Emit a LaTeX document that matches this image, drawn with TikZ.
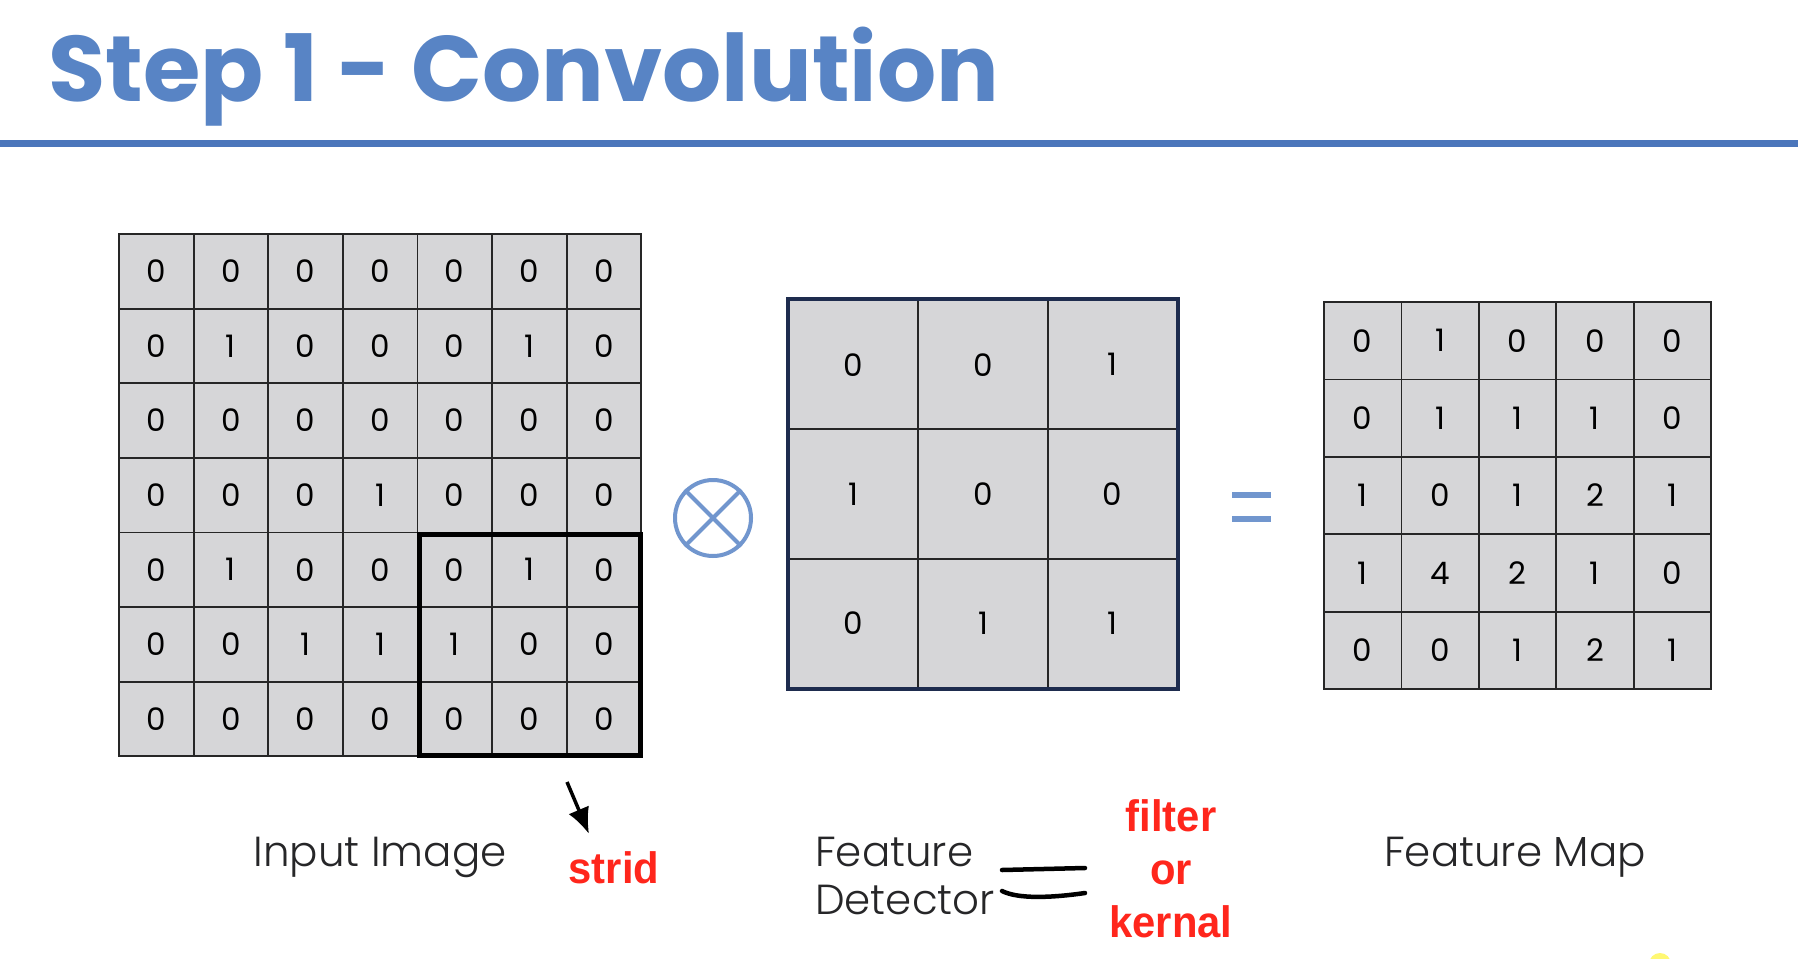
\documentclass[tikz,border=0pt]{standalone}
\usepackage{fontspec}
\usepackage{xcolor}
\usepackage{tikz}
\usetikzlibrary{arrows.meta}
\setmainfont{Poppins}
\newfontfamily\titlefont{Poppins}
\newfontfamily\lightfont{Poppins Light}
\newfontfamily\notefont{Liberation Sans}[FakeStretch=0.95]
\definecolor{Slide-Blue}{RGB}{ 88,132,197}
\definecolor{Rule-Blue}{RGB}{ 75,118,187}
\definecolor{Cell-Gray}{RGB}{214,214,216}
\definecolor{Frame-Navy}{RGB}{ 30, 44, 78}
\definecolor{Note-Red}{RGB}{255, 38, 28}
\definecolor{Label-Gray}{RGB}{ 38, 38, 40}
\tikzstyle{cell}=[rectangle,draw=black!85,line width=1.8pt,fill=Cell-Gray,inner sep=0pt,font=\fontsize{31}{31}\selectfont]
\tikzstyle{incell}=[cell,minimum size=74.6pt]
\tikzstyle{fdcell}=[cell,minimum size=129.3pt]
\tikzstyle{fmcell}=[cell,minimum size=77.4pt]
\tikzstyle{window}=[line width=5pt,draw=black]
\tikzstyle{lbl}=[text=Label-Gray,font=\lightfont\fontsize{42}{48}\selectfont,inner sep=0pt]
\tikzstyle{note}=[text=Note-Red,font=\notefont\bfseries\fontsize{44}{53}\selectfont,inner sep=0pt]
\tikzstyle{hand}=[line width=4.5pt,line cap=round]

\begin{document}
\begin{tikzpicture}[x=1pt,y=-1pt]
\useasboundingbox[fill=white] (0,0) rectangle (1798,958);

% Title
\node[anchor=base west,inner sep=0pt,text=Slide-Blue,font=\titlefont\bfseries\fontsize{93}{100}\selectfont] (title) at (48,101) {Step 1 - Convolution};
\draw[Rule-Blue,line width=7pt] (0,143) -- (1798,143);

% Input image
\foreach \row [count=\r] in {{0,0,0,0,0,0,0},{0,1,0,0,0,1,0},{0,0,0,0,0,0,0},{0,0,0,1,0,0,0},{0,1,0,0,0,1,0},{0,0,1,1,1,0,0},{0,0,0,0,0,0,0}}
  \foreach \v [count=\c] in \row
    \node[incell] (in-\r-\c) at ({119+74.6*(\c-0.5)},{234+74.6*(\r-0.5)}) {\v};
\draw[window] ([shift={(3,3)}]in-5-5.north west) rectangle ([shift={(-2,-2)}]in-7-7.south east);

% Operator
\node[circle,draw=Slide-Blue!85,line width=4pt,minimum size=76pt,inner sep=0pt] (times) at (713,518) {};
\draw[Slide-Blue!85,line width=4pt] (times.north east) -- (times.south west)
                                    (times.north west) -- (times.south east);

% Feature detector
\foreach \row [count=\r] in {{0,0,1},{1,0,0},{0,1,1}}
  \foreach \v [count=\c] in \row
    \node[fdcell] (fd-\r-\c) at ({789+129.3*(\c-0.5)},{300+129.3*(\r-0.5)}) {\v};
\draw[Frame-Navy,line width=3.5pt] (fd-1-1.north west) rectangle (fd-3-3.south east);

\draw[Slide-Blue!85,line width=6pt] (1232,495) -- (1271,495)
                                    (1232,519) -- (1271,519);

% Feature map
\foreach \row [count=\r] in {{0,1,0,0,0},{0,1,1,1,0},{1,0,1,2,1},{1,4,2,1,0},{0,0,1,2,1}}
  \foreach \v [count=\c] in \row
    \node[fmcell] (fm-\r-\c) at ({1324+77.4*(\c-0.5)},{302+77.4*(\r-0.5)}) {\v};

% Labels
\node[lbl,anchor=base]                  (input label)    at (380,866)  {Input Image};
\node[lbl,anchor=base west,align=left]  (detector label) at (815,914)  {Feature\\Detector};
\node[lbl,anchor=base]                  (map label)      at (1515,866) {Feature Map};

% Notes
\node[note,anchor=base]              (strid)       at (614,883)  {strid};
\node[note,anchor=base,align=center] (kernel note) at (1171,937) {filter\\or\\kernal};
\coordinate (stride tail) at (567,782);
\draw[-{Latex[length=26pt,width=22pt]},line width=3.5pt] (stride tail) -- ([shift={(-25,-17)}]strid.north);
\draw[hand] (1002,870) -- (1085,868);
\draw[hand] (1002,891) .. controls (1018,899) and (1050,898) .. (1085,893);

\fill[yellow!55] (1660,964) circle (11);

\end{tikzpicture}
\end{document}
